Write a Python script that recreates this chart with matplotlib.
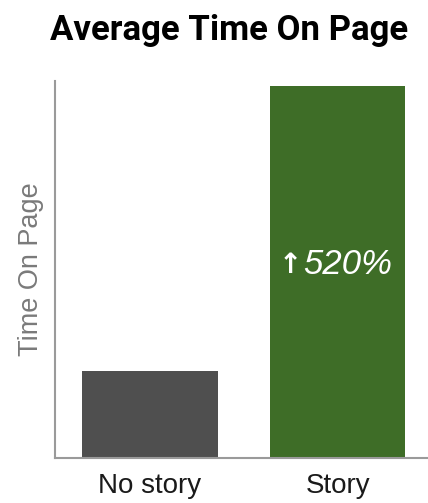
import matplotlib.pyplot as plt

# datos
categorias = ["No story", "Story"]
valores = [23, 98.7]
colores = ["#4f4f4f", "#3e6d27"]
flecha = "\u2191"
etiqueta = "520%"

fig = plt.figure(figsize=(4.28, 5.03), dpi=100)
ax = fig.add_axes([0.1285, 0.0895, 0.8715, 0.7495])

x = range(len(categorias))
barras = ax.bar(x, valores, width=0.72, color=colores)

ax.set_xlim(-0.505, 1.48)
ax.set_ylim(0, 100)
ax.set_xticks(list(x))
ax.set_xticklabels(categorias, fontsize=20, family="Liberation Sans", color="#1a1a1a")
ax.tick_params(axis="x", length=0, pad=11)
ax.set_yticks([])
ax.set_ylabel("Time On Page", fontsize=19.5, family="Liberation Sans", color="#7a7a7a", labelpad=8)

for lado in ["top", "right"]:
    ax.spines[lado].set_visible(False)
for lado in ["left", "bottom"]:
    ax.spines[lado].set_color("#9a9a9a")
    ax.spines[lado].set_linewidth(1.5)

# texto dentro de la barra verde
ax.text(0.745, 51.2, flecha, ha="center", va="center", color="white", fontsize=20,
        fontweight="bold", family="DejaVu Sans")
ax.text(0.815, 51.2, etiqueta, ha="left", va="center", color="white", fontsize=25,
        style="italic", family="Liberation Sans")

fig.text(0.535, 0.94, "Average Time On Page", ha="center", va="center", fontsize=25,
         fontweight="bold", family="Roboto")

fig.savefig("out.png", dpi=100)
